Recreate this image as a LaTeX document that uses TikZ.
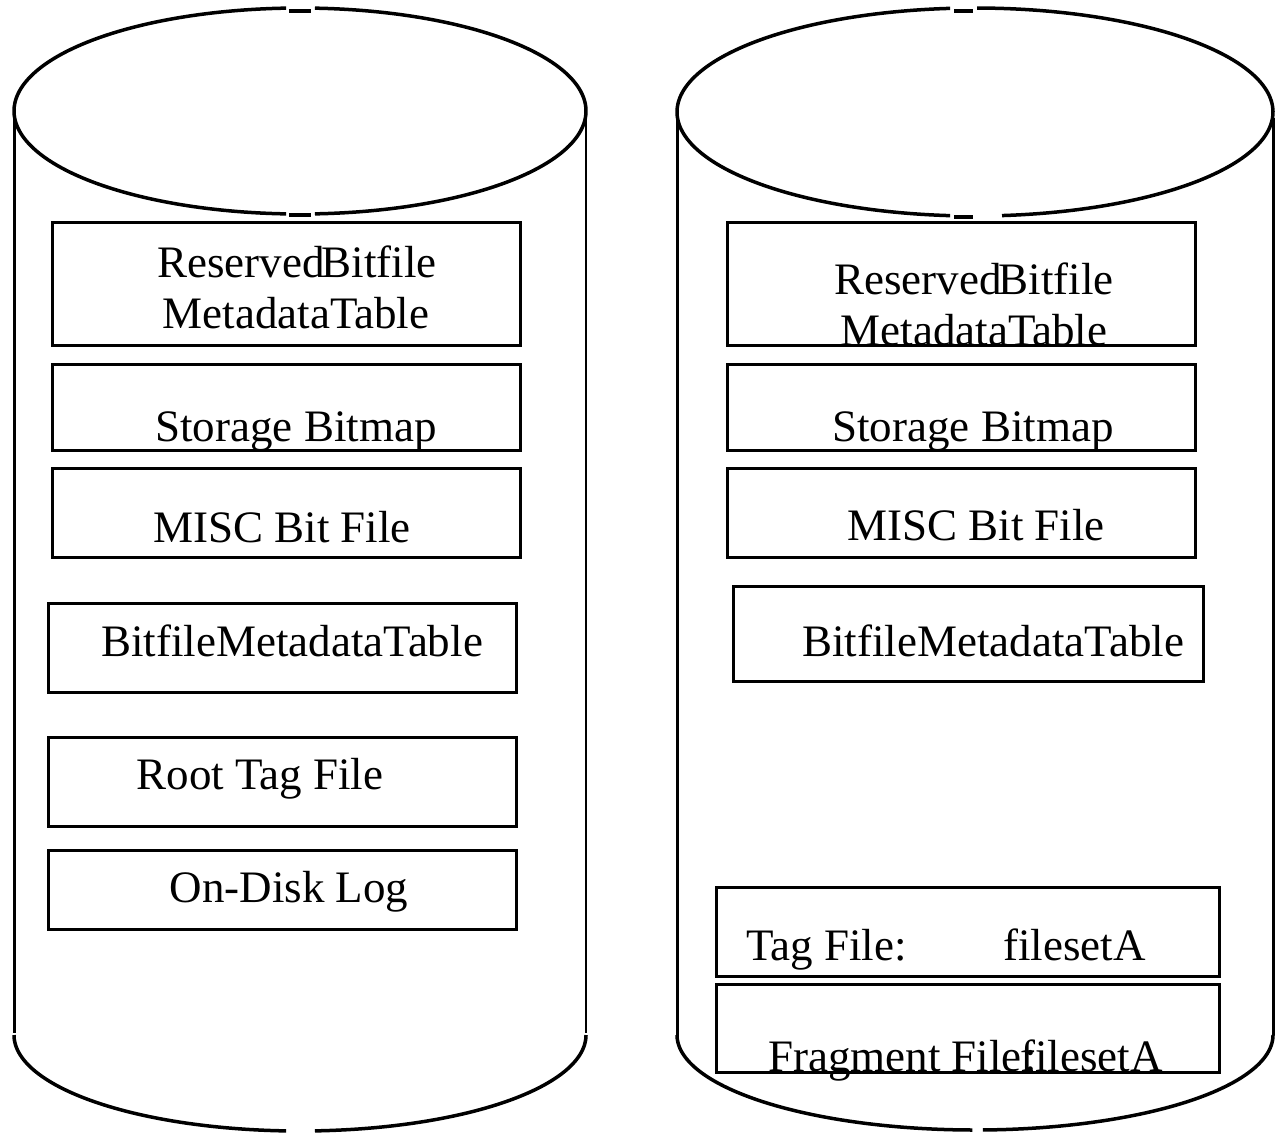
\documentclass[tikz,border=0pt]{standalone}
\usepackage{fontspec}
\setmainfont{Liberation Serif}
\begin{document}
\begin{tikzpicture}[x=1pt,y=-1pt,
  rim/.style={line width=3.5pt, line cap=butt, line join=round},
  wall/.style={line width=3pt},
  thinwall/.style={line width=1.6pt},
  slot/.style={line width=3pt},
  lbl/.style={font=\fontsize{45}{50}\selectfont, inner sep=0pt, anchor=base}]
\useasboundingbox (0,0) rectangle (1276,1133);

% ---------- left drum ----------
% top rim, broken at front and back with short dashes
\draw[rim] plot[domain=273:447, samples=120, smooth] ({300+286*cos(\x)},{111+103*sin(\x)});
\draw[rim] plot[domain=92.8:267.2, samples=120, smooth] ({300+286*cos(\x)},{111+103*sin(\x)});
\draw[rim] (289,11) -- (311,11);
\draw[rim] (289,215) -- (311,215);
% walls
\draw[wall] (14,114) -- (14,1033);
\draw[thinwall] (586,114) -- (586,1033);
% base curve
\draw[rim] plot[domain=0:87, samples=80, smooth] ({300+286*cos(\x)},{1035+96*sin(\x)});
\draw[rim] plot[domain=92.8:180, samples=80, smooth] ({300+286*cos(\x)},{1035+96*sin(\x)});

% ---------- right drum ----------
\draw[rim] plot[domain=270.4:444.8, samples=120, smooth] ({975+298*cos(\x)},{112+104*sin(\x)});
\draw[rim] plot[domain=94.8:265.2, samples=120, smooth] ({975+298*cos(\x)},{112+104*sin(\x)});
\draw[rim] (954,11) -- (973,11);
\draw[rim] (954,217) -- (973,217);
\draw[wall] (677,115) -- (677,1035);
\draw[wall] (1273,118) -- (1273,1035);
\draw[rim] plot[domain=0:88.5, samples=80, smooth] ({975+298*cos(\x)},{1035+95*sin(\x)});
\draw[rim] plot[domain=90.5:180, samples=80, smooth] ({975+298*cos(\x)},{1035+95*sin(\x)});

% ---------- left drum contents ----------
\draw[slot] (52,222) rectangle (520,345);
\draw[slot] (52,364) rectangle (520,450);
\draw[slot] (52,468) rectangle (520,557);
\draw[slot] (48,603) rectangle (516,692);
\draw[slot] (48,737) rectangle (516,826);
\draw[slot] (48,850) rectangle (516,929);

\node[lbl] (lres1) at (297,277) {Reserved\kern-3pt Bitfile};
\node[lbl] (lres2) at (296,328) {MetadataTable};
\node[lbl] (lbmp)  at (296,441) {Storage Bitmap};
\node[lbl] (lmisc) at (282,542) {MISC Bit File};
\node[lbl] (lbmt)  at (292,656) {BitfileMetadataTable};
\node[lbl] (lroot) at (260,789) {Root Tag File};
\node[lbl] (llog)  at (289,902) {On-Disk Log};

% ---------- right drum contents ----------
\draw[slot] (727,222) rectangle (1195,345);
\draw[slot] (727,364) rectangle (1195,450);
\draw[slot] (727,468) rectangle (1195,557);
\draw[slot] (733,586) rectangle (1203,681);
\draw[slot] (716,887) rectangle (1219,976);
\draw[slot] (716,984) rectangle (1219,1072);

\node[lbl] (rres1) at (974,294) {Reserved\kern-3pt Bitfile};
\node[lbl] (rres2) at (974,345) {MetadataTable};
\node[lbl] (rbmp)  at (973,441) {Storage Bitmap};
\node[lbl] (rmisc) at (976,540) {MISC Bit File};
\node[lbl] (rbmt)  at (993,656) {BitfileMetadataTable};
\node[lbl, anchor=base west] (rtag)  at (746,960) {Tag File:};
\node[lbl, anchor=base west] (rtagA) at (1003,960) {filesetA};
\node[lbl, anchor=base west] (rfrag) at (768,1071) {Fragment File};
\node[lbl, anchor=base west] (rcol)  at (1024,1071) {:};
\node[lbl, anchor=base west] (rfragA) at (1020,1071) {filesetA};
\end{tikzpicture}
\end{document}
